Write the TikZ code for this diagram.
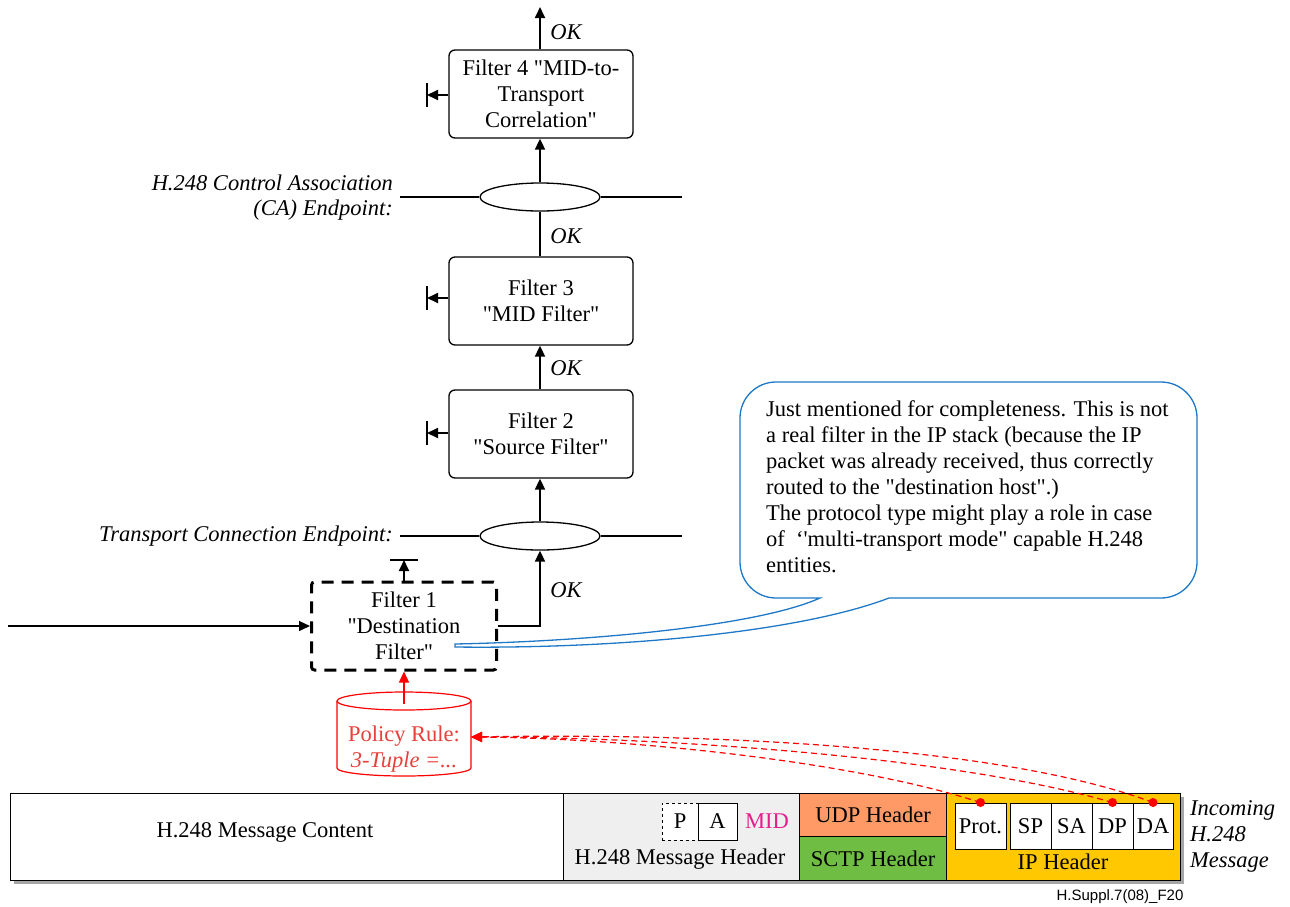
\documentclass[tikz,border=0pt]{standalone}
\usepackage{fontspec}
\setmainfont{Liberation Serif}[Ligatures=TeXOff]
\newfontfamily\capsans{Liberation Sans}
\usetikzlibrary{arrows.meta,shapes.geometric}
\definecolor{bubblue}{RGB}{30,120,200}
\definecolor{redtxt}{RGB}{232,64,58}
\definecolor{midmag}{RGB}{230,30,140}
\definecolor{udpor}{RGB}{255,153,102}
\definecolor{sctpgr}{RGB}{112,189,68}
\definecolor{ipgold}{RGB}{255,200,0}
\definecolor{hdrgray}{RGB}{239,239,239}
\begin{document}
\begin{tikzpicture}[x=1pt,y=-1pt,
  every node/.style={font=\fontsize{22.5}{26}\selectfont, inner sep=0pt},
  filterbox/.style={draw, line width=1.3pt, rounded corners=6pt, minimum width=184pt, minimum height=88pt, align=center},
  arr/.style={line width=1.8pt, -{Triangle[length=11pt,width=10pt]}},
  thin/.style={line width=1.2pt},
  endp/.style={draw, line width=1.3pt, ellipse, minimum width=120pt, minimum height=28pt},
  oklab/.style={font=\fontsize{22.5}{26}\selectfont\itshape},
  cell/.style={draw, line width=1pt, fill=white, minimum height=46pt},
  reddash/.style={red, line width=1.2pt, dash pattern=on 6pt off 4pt, -{Triangle[length=11pt,width=10pt]}},
]
\useasboundingbox (0,0) rectangle (1290,906);

% Filters
\node[filterbox] (f4) at (541,94) {Filter 4 "MID-to-\\Transport\\Correlation"};
\node[filterbox] (f3) at (541,301) {Filter 3\\"MID Filter"};
\node[filterbox] (f2) at (541,434) {Filter 2\\"Source Filter"};
\node[draw, line width=3pt, dash pattern=on 12pt off 8pt, rounded corners=3pt, minimum width=185pt, minimum height=88pt, align=center] (f1) at (404,626) {Filter 1\\"Destination\\Filter"};

% Endpoints
\node[endp] (ca) at (540,197) {};
\node[endp] (tc) at (540,536) {};
\coordinate (caL) at (400,197); \coordinate (caR) at (682,197);
\coordinate (tcL) at (400,536); \coordinate (tcR) at (682,536);
\draw[thin] (caL) -- (ca.west); \draw[thin] (ca.east) -- (caR);
\draw[thin] (tcL) -- (tc.west); \draw[thin] (tc.east) -- (tcR);
\node[anchor=east, align=right, font=\fontsize{22.5}{25}\selectfont\itshape] (calab) at (393,198) {H.248 Control Association\\(CA) Endpoint:};
\node[anchor=east, font=\fontsize{22.5}{26}\selectfont\itshape] (tclab) at (393,536) {Transport Connection Endpoint:};

% Vertical chain
\coordinate (top) at (540,7);
\draw[arr] (f4.north -| 540,0) -- (top);
\node[oklab] (ok4) at (566,32) {OK};
\draw[arr] (ca.north) -- (f4.south -| ca.north);
\draw[line width=1.8pt] (ca.south) -- (f3.north -| ca.south);
\node[oklab] (ok3) at (566,236) {OK};
\draw[arr] (f2.north -| 540,0) -- (f3.south -| 540,0);
\node[oklab] (ok2) at (566,368) {OK};
\draw[arr] (tc.north) -- (f2.south -| tc.north);
\coordinate (f1out) at (540,626);
\draw[arr] (f1.east) -- (f1out) -- (tc.south);
\node[oklab] (ok1) at (566,590) {OK};

% Terminators
\foreach \f/\yy in {f4/95,f3/298,f2/433}{
  \coordinate (t\f) at (427,\yy);
  \draw[arr] (\f.west |- t\f) -- (t\f);
  \draw[thin] ([yshift=-12pt]t\f) -- ([yshift=12pt]t\f);
}
\coordinate (t1) at (404,560);
\draw[arr] (f1.north) -- (t1);
\draw[thin] ([xshift=-14pt]t1) -- ([xshift=14pt]t1);

% input
\coordinate (in) at (8,626);
\draw[line width=1.2pt, -{Triangle[length=11pt,width=10pt]}] (in) -- (f1.west);

% Policy rule cylinder
\draw[red, line width=1.2pt, fill=white] (337,701) -- (337,768) arc (180:0:67 and 8) -- (471,701);
\draw[red, line width=1.2pt] (404,701) ellipse (67 and 9);
\node[align=center, text=redtxt] (pol) at (404,749) {Policy Rule:\\\textit{3-Tuple =...}};
\coordinate (polE) at (471,737);
\coordinate (polT) at (404,704);
\draw[red, line width=1.2pt, -{Triangle[length=11pt,width=10pt]}] (polT) -- (f1.south);

% Message bar
\fill[gray!70] (14,797) rectangle (1184,884);
\node[draw, line width=1.2pt, fill=white, minimum width=553pt, minimum height=87pt, anchor=north west] (cont) at (10,793) {};
\node (conttxt) at (265,832) {H.248 Message Content};
\node[draw, line width=1.2pt, fill=hdrgray, minimum width=236pt, minimum height=87pt, anchor=north west] (hdr) at (563,793) {};
\node (hdrtxt) at (680,859) {H.248 Message Header};
\node[draw, line width=1pt, dashed, fill=white, minimum width=36pt, minimum height=37pt] (pbox) at (680,821.5) {P};
\node[draw, line width=1pt, fill=white, minimum width=39pt, minimum height=37pt] (abox) at (717.5,821.5) {A};
\node[text=midmag] (mid) at (767,821) {MID};
\node[draw, line width=1.2pt, fill=udpor, minimum width=147pt, minimum height=43pt, anchor=north west] (udp) at (799,793) {UDP Header};
\node[draw, line width=1.2pt, fill=sctpgr, minimum width=147pt, minimum height=44pt, anchor=north west] (sctp) at (799,836) {SCTP Header};
\node[draw, line width=1.2pt, fill=ipgold, minimum width=234pt, minimum height=87pt, anchor=north west] (ip) at (946,793) {};
\node (iptxt) at (1063,862) {IP Header};
\node[cell, minimum width=51pt] (prot) at (980.5,826) {Prot.};
\node[cell, minimum width=41pt] (sp) at (1030.5,826) {SP};
\node[cell, minimum width=41pt] (sa) at (1071.5,826) {SA};
\node[cell, minimum width=41pt] (dp) at (1112.5,826) {DP};
\node[cell, minimum width=40pt] (da) at (1153,826) {DA};
\node[anchor=west, align=left, font=\fontsize{22.5}{26}\selectfont\itshape] (inc) at (1190,836) {Incoming\\H.248\\Message};
\node[font=\capsans\fontsize{15}{16}\selectfont] (fig) at (1120,897) {H.Suppl.7(08)\_F20};

% Red dashed references
\draw[reddash] (prot.north) .. controls (850,760) and (620,738) .. (polE);
\draw[reddash] (dp.north) .. controls (950,755) and (650,737) .. (polE);
\draw[reddash] (da.north) .. controls (1000,745) and (700,733) .. (polE);
\fill[red] (prot.north) circle (4.5);
\fill[red] (dp.north) circle (4.5);
\fill[red] (da.north) circle (4.5);

% Callout
\draw[bubblue, line width=1.3pt, fill=white] (889,598) [rounded corners=36pt] -- (1197,598) -- (1197,382) -- (740,382) -- (740,598) [sharp corners] -- (820,598)
  .. controls (760,625) and (600,641) .. (455,644)
  .. controls (455,646) and (455,647) .. (455,647)
  .. controls (620,649) and (800,632) .. (889,598) -- cycle;
\node[anchor=north west, align=left] (note) at (766,400) {Just mentioned for completeness. This is not\\a real filter in the IP stack (because the IP\\packet was already received, thus correctly\\routed to the "destination host".)\\The protocol type might play a role in case\\of \ ‘'multi-transport mode" capable H.248\\entities.};
\end{tikzpicture}
\end{document}
